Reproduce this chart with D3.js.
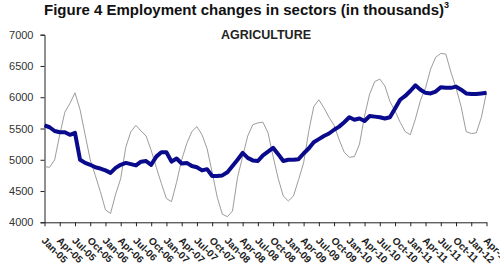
<!DOCTYPE html>
<html>
<head>
<meta charset="utf-8">
<script src="https://cdn.jsdelivr.net/npm/d3@7"></script>
<style>
  body { margin: 0; background: #fff; }
  svg { display: block; font-family: "Liberation Sans", Arial, sans-serif; }
  .line-orig { fill: none; stroke: #9c9c9c; stroke-width: 1; }
  .line-adj { fill: none; stroke: #0a0a8c; stroke-width: 4; stroke-linejoin: round; }
  .axis path, .axis line { stroke: #222; }
</style>
</head>
<body>
<svg id="canvas" width="500" height="278"></svg>
<script>
// month categories Jan-05 .. Apr-12
const months = d3.timeMonth.range(new Date(2005, 0, 1), new Date(2012, 4, 1)).map(d3.timeFormat("%b-%y"));

const tickLabels = [
  "Jan-05", "Apr-05", "Jul-05", "Oct-05", "Jan-06", "Apr-06", "Jul-06", "Oct-06",
  "Jan-07", "Apr-07", "Jul-07", "Oct-07", "Jan-08", "Apr-08", "Jul-08", "Oct-08",
  "Jan-09", "Apr-09", "Jul-09", "Oct-09", "Jan-10", "Apr-10", "Jul-10", "Oct-10",
  "Jan-11", "Apr-11", "Jul-11", "Oct-11", "Jan-12", "Apr-12"
];

const yTicks = [4000, 4500, 5000, 5500, 6000, 6500, 7000];

// original (not seasonally adjusted) series, thin grey
const original = [
  4890, 4880, 5000, 5400, 5760, 5900, 6070, 5800, 5400, 5000, 4750, 4490,
  4200, 4140, 4450, 4700, 5200, 5450, 5550, 5460, 5380, 5150, 4880, 4620,
  4380, 4330, 4640, 5000, 5260, 5450, 5530, 5400, 5180, 4800, 4400, 4130,
  4090, 4180, 4720, 5050, 5380, 5560, 5590, 5600, 5430, 5050, 4700, 4420,
  4340, 4420, 4680, 4950, 5450, 5850, 5960, 5830, 5680, 5550, 5320, 5120,
  5040, 5050, 5250, 5700, 6050, 6250, 6290, 6180, 5930, 5780, 5600, 5450,
  5400, 5650, 5950, 6150, 6450, 6640, 6700, 6690, 6400, 6150, 5850, 5450,
  5420, 5430, 5680, 6080
];

// seasonally adjusted series, thick blue
const adjusted = [
  5550, 5520, 5460, 5440, 5440, 5400, 5430, 5000, 4950, 4920, 4880, 4860,
  4830, 4790, 4870, 4920, 4950, 4930, 4910, 4970, 4980, 4920, 5050, 5120,
  5120, 4970, 5020, 4940, 4950, 4900, 4880, 4830, 4850, 4740, 4740, 4750,
  4800, 4900, 5000, 5110, 5030, 4990, 4980, 5070, 5130, 5190, 5090, 4980,
  5000, 5000, 5010, 5100, 5180, 5280, 5330, 5380, 5420, 5480, 5530, 5600,
  5680, 5640, 5660, 5620, 5700, 5690, 5680, 5660, 5680, 5820, 5960, 6020,
  6100, 6190, 6120, 6070, 6060, 6090, 6160, 6150, 6150, 6170, 6120, 6060,
  6050, 6050, 6060, 6070
];

const svg = d3.select("#canvas");

const x = d3.scalePoint().domain(months).range([44.5, 486.5]);
const y = d3.scaleLinear().domain([4000, 7000]).range([222.3, 34.7]);

// titles
const title = svg.append("text")
    .attr("x", 44).attr("y", 14.5)
    .attr("font-size", 15).attr("font-weight", "bold").attr("fill", "#111")
    .text("Figure 4 Employment changes in sectors (in thousands)");
title.append("tspan").attr("font-size", 9).attr("dy", -7).text("3");

svg.append("text")
    .attr("x", 266).attr("y", 39)
    .attr("text-anchor", "middle")
    .attr("font-size", 12.5).attr("font-weight", "bold").attr("fill", "#222")
    .text("AGRICULTURE");

// axes
const yAxis = svg.append("g").attr("class", "axis")
    .attr("transform", "translate(44.5,0)")
    .call(d3.axisLeft(y).tickValues(yTicks).tickSize(4).tickPadding(7).tickFormat(d3.format("d")));
yAxis.selectAll("text").attr("font-size", 11).attr("fill", "#333").attr("font-family", "Liberation Sans, Arial, sans-serif");

const xAxis = svg.append("g").attr("class", "axis")
    .attr("transform", "translate(0,222.3)")
    .call(d3.axisBottom(x).tickValues(tickLabels).tickSize(4).tickSizeOuter(0));
xAxis.selectAll("text")
    .attr("font-size", 10).attr("font-weight", "bold").attr("fill", "#222")
    .attr("font-family", "Liberation Sans, Arial, sans-serif")
    .attr("text-anchor", "start")
    .attr("dy", null).attr("y", null)
    .attr("transform", "translate(-4,19) rotate(45)");

// lines
const line = d3.line().x((d, i) => x(months[i])).y(d => y(d));

svg.append("path").datum(original).attr("class", "line-orig").attr("d", line);
svg.append("path").datum(adjusted).attr("class", "line-adj").attr("d", line);
</script>
</body>
</html>
